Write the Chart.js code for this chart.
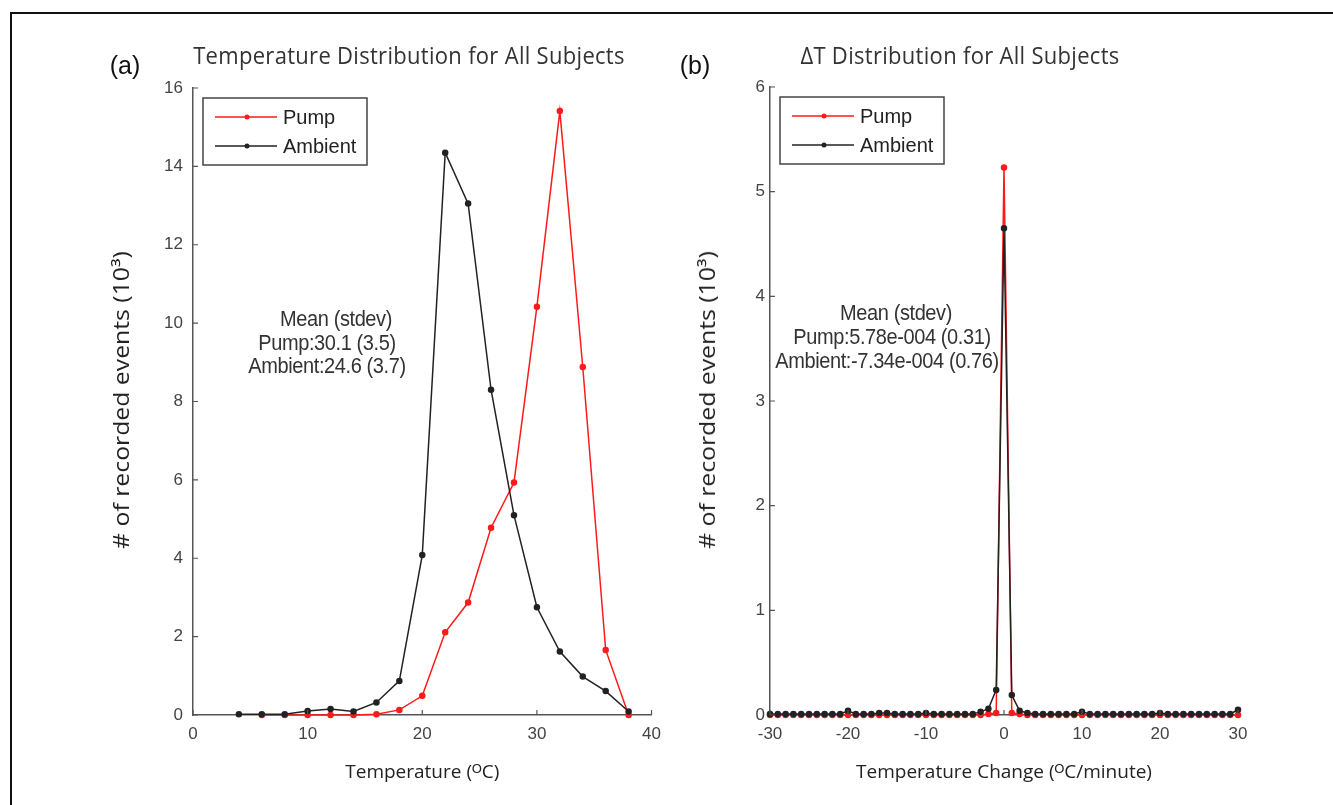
<!DOCTYPE html>
<html>
<head>
<meta charset="utf-8">
<script src="https://cdn.jsdelivr.net/npm/chart.js@4.4.1/dist/chart.umd.min.js"></script>
<style>
  body { margin: 0; background: #fff; width: 1333px; height: 805px; overflow: hidden; position: relative; }
  #frame { position: absolute; left: 10px; top: 12px; width: 1400px; height: 900px; border-left: 2px solid #111; border-top: 2px solid #111; }
  .wrap { position: absolute; }
  .txt { position: absolute; white-space: nowrap; color: #333; }
  .panel { font-family: "Liberation Sans", Arial, sans-serif; font-size: 25px; color: #111; transform: translate(-50%, -50%); }
  .ttl { font-family: "Open Sans", sans-serif; font-size: 22px; color: #333; transform: translate(-50%, -50%) scaleY(1.05); letter-spacing: 0.3px; }
  .note { font-family: "Liberation Sans", Arial, sans-serif; font-size: 20px; color: #333; transform: translate(-50%, -50%) scaleY(1.1); letter-spacing: -0.4px; }
  .ytl { font-family: "Open Sans", sans-serif; font-size: 21px; color: #222; transform: translate(-50%, -50%) rotate(-90deg) scaleX(1.18); }
</style>
</head>
<body>
<div id="frame"></div>
<div class="wrap" style="left:100px;top:40px;width:570px;height:760px;"><canvas id="chartA"></canvas></div>
<div class="wrap" style="left:680px;top:40px;width:600px;height:760px;"><canvas id="chartB"></canvas></div>

<div class="txt panel" style="left:125px;top:65px;">(a)</div>
<div class="txt panel" style="left:695px;top:65px;">(b)</div>
<div class="txt ttl" style="left:409px;top:55px;">Temperature Distribution for All Subjects</div>
<div class="txt ttl" style="left:960px;top:55px;">ΔT Distribution for All Subjects</div>

<div class="txt ytl" style="left:121px;top:400px;"># of recorded events (10³)</div>
<div class="txt ytl" style="left:707px;top:400px;"># of recorded events (10³)</div>

<div class="txt note" style="left:336px;top:319px;">Mean (stdev)</div>
<div class="txt note" style="left:327px;top:343px;">Pump:30.1 (3.5)</div>
<div class="txt note" style="left:327px;top:366px;">Ambient:24.6 (3.7)</div>
<div class="txt note" style="left:896px;top:313px;">Mean (stdev)</div>
<div class="txt note" style="left:892px;top:337px;">Pump:5.78e-004 (0.31)</div>
<div class="txt note" style="left:887px;top:361px;">Ambient:-7.34e-004 (0.76)</div>

<script>
// (a) temperature histogram, counts in thousands
const ambientBins = [4, 6, 8, 10, 12, 14, 16, 18, 20, 22, 24, 26, 28, 30, 32, 34, 36, 38];
const ambientTemp = [0.02, 0.02, 0.02, 0.1, 0.15, 0.09, 0.32, 0.87, 4.08, 14.35, 13.05, 8.3, 5.1, 2.75, 1.62, 0.98, 0.61, 0.09];
const pumpBins = [6, 8, 10, 12, 14, 16, 18, 20, 22, 24, 26, 28, 30, 32, 34, 36, 38];
const pumpTemp = [0, 0, 0, 0, 0, 0.02, 0.13, 0.49, 2.11, 2.87, 4.78, 5.93, 10.42, 15.41, 8.88, 1.66, 0];

// (b) temperature change histogram, bins -30..30 degC/minute
const deltaBins = [-30, -29, -28, -27, -26, -25, -24, -23, -22, -21, -20, -19, -18, -17, -16, -15, -14, -13, -12, -11, -10,
  -9, -8, -7, -6, -5, -4, -3, -2, -1, 0, 1, 2, 3, 4, 5, 6, 7, 8, 9, 10,
  11, 12, 13, 14, 15, 16, 17, 18, 19, 20, 21, 22, 23, 24, 25, 26, 27, 28, 29, 30];
const ambientDelta = [0.01, 0.01, 0.01, 0.01, 0.01, 0.01, 0.01, 0.01, 0.01, 0.01, 0.04, 0.01, 0.01, 0.01, 0.02, 0.02, 0.01, 0.01, 0.01, 0.01, 0.02,
  0.01, 0.01, 0.01, 0.01, 0.01, 0.01, 0.03, 0.06, 0.24, 4.65, 0.19, 0.04, 0.02, 0.01, 0.01, 0.01, 0.01, 0.01, 0.01, 0.03,
  0.01, 0.01, 0.01, 0.01, 0.01, 0.01, 0.01, 0.01, 0.01, 0.02, 0.01, 0.01, 0.01, 0.01, 0.01, 0.01, 0.01, 0.01, 0.01, 0.05];
const pumpDelta = [0, 0, 0, 0, 0, 0, 0, 0, 0, 0, 0, 0, 0, 0, 0, 0, 0, 0, 0, 0, 0,
  0, 0, 0, 0, 0, 0, 0, 0.01, 0.02, 5.23, 0.02, 0.01, 0, 0, 0, 0, 0, 0, 0, 0,
  0, 0, 0, 0, 0, 0, 0, 0, 0, 0, 0, 0, 0, 0, 0, 0, 0, 0, 0, 0];

const seriesNames = ['Pump', 'Ambient'];
const seriesColors = ['#ff1a1a', '#222222'];

const pts = (xs, ys) => xs.map((x, i) => ({ x: x, y: ys[i] }));

const tickFont = { family: '"Liberation Sans", Arial, sans-serif', size: 17 };
const titleFont = { family: '"Open Sans", sans-serif', size: 19 };
const axisGray = '#555';

// MATLAB-like inward ticks
const inwardTicks = {
  id: 'inwardTicks',
  afterDatasetsDraw(chart) {
    const c = chart.ctx;
    const xs = chart.scales.x, ys = chart.scales.y;
    c.save();
    c.strokeStyle = axisGray;
    c.lineWidth = 1.2;
    c.beginPath();
    xs.ticks.forEach(t => {
      const px = xs.getPixelForValue(t.value);
      c.moveTo(px, ys.bottom); c.lineTo(px, ys.bottom - 5);
    });
    ys.ticks.forEach(t => {
      const py = ys.getPixelForValue(t.value);
      c.moveTo(xs.left, py); c.lineTo(xs.left + 5, py);
    });
    c.stroke();
    c.restore();
  }
};

// legend box in the upper-left corner of the axes
const boxLegend = {
  id: 'boxLegend',
  afterDraw(chart) {
    const c = chart.ctx;
    const a = chart.chartArea;
    const x0 = a.left + 10, y0 = a.top + 10, w = 164, h = 67;
    c.save();
    c.fillStyle = '#fff';
    c.fillRect(x0, y0, w, h);
    c.strokeStyle = '#444';
    c.lineWidth = 1.5;
    c.strokeRect(x0, y0, w, h);
    seriesNames.forEach((name, i) => {
      const y = y0 + 19 + i * 29;
      c.strokeStyle = seriesColors[i];
      c.lineWidth = 1.5;
      c.beginPath(); c.moveTo(x0 + 12, y); c.lineTo(x0 + 74, y); c.stroke();
      c.fillStyle = seriesColors[i];
      c.beginPath(); c.arc(x0 + 44, y, 2.5, 0, Math.PI * 2); c.fill();
      c.fillStyle = '#222';
      c.font = '20px "Liberation Sans", Arial, sans-serif';
      c.textBaseline = 'middle';
      c.fillText(name, x0 + 80, y + 1);
    });
    c.restore();
  }
};

function makeChart(id, pumpData, ambData, xOpt, yOpt, pad, yWidth, yTickPad) {
  return new Chart(document.getElementById(id), {
    type: 'line',
    data: {
      datasets: [
        { label: 'Ambient', data: ambData, borderColor: seriesColors[1], backgroundColor: seriesColors[1],
          borderWidth: 1.5, pointRadius: 2.5, pointHoverRadius: 2.5, tension: 0 },
        { label: 'Pump', data: pumpData, borderColor: seriesColors[0], backgroundColor: seriesColors[0],
          borderWidth: 1.5, pointRadius: 2.5, pointHoverRadius: 2.5, tension: 0 }
      ]
    },
    options: {
      responsive: true,
      maintainAspectRatio: false,
      animation: false,
      clip: false,
      layout: { padding: pad },
      plugins: { legend: { display: false }, tooltip: { enabled: false } },
      scales: {
        x: {
          type: 'linear', min: xOpt.min, max: xOpt.max,
          border: { display: true, color: axisGray, width: 1.5 },
          grid: { display: true, drawOnChartArea: false, drawTicks: false },
          ticks: { stepSize: xOpt.step, font: tickFont, color: '#444', padding: 9, maxRotation: 0 },
          title: { display: true, text: xOpt.title, font: titleFont, color: '#222', padding: { top: 0, bottom: 16 } },
          afterFit(s) { s.height = 85; }
        },
        y: {
          min: yOpt.min, max: yOpt.max,
          border: { display: true, color: axisGray, width: 1.5 },
          grid: { display: true, drawOnChartArea: false, drawTicks: false },
          ticks: { stepSize: yOpt.step, font: tickFont, color: '#444', padding: yTickPad },
          afterFit(s) { s.width = yWidth; }
        }
      }
    },
    plugins: [inwardTicks, boxLegend]
  });
}

makeChart('chartA', pts(pumpBins, pumpTemp), pts(ambientBins, ambientTemp),
  { min: 0, max: 40, step: 10, title: 'Temperature (ᴼC)' },
  { min: 0, max: 16, step: 2 },
  { left: 0, top: 48, right: 15, bottom: 0 }, 93, 10);

makeChart('chartB', pts(deltaBins, pumpDelta), pts(deltaBins, ambientDelta),
  { min: -30, max: 30, step: 10, title: 'Temperature Change (ᴼC/minute)' },
  { min: 0, max: 6, step: 1 },
  { left: 0, top: 47, right: 42, bottom: 0 }, 90, 5);
</script>
</body>
</html>
